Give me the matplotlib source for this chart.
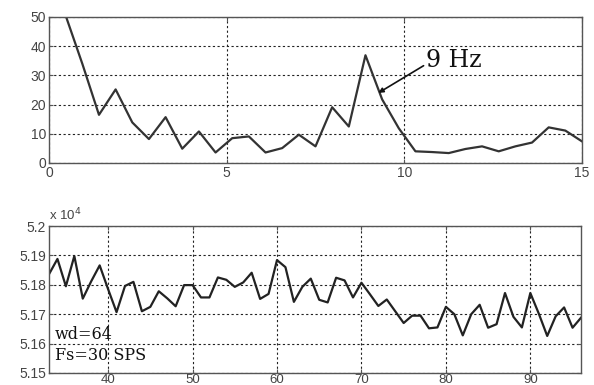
import matplotlib
matplotlib.use("Agg")
import matplotlib.pyplot as plt
from matplotlib.ticker import FuncFormatter, FixedLocator

# ---- data ----
fs = 30
n_window = 64
bin_index = list(range(1, 33))
freq_hz = [k * fs / n_window for k in bin_index]
spectrum = [50.5, 34.0, 16.5, 25.2, 13.9, 8.2, 15.7, 4.9, 10.8, 3.6, 8.5, 9.1,
            3.6, 5.1, 9.7, 5.7, 19.1, 12.5, 36.9, 21.8, 11.9, 4.0, 3.75, 3.4,
            4.8, 5.7, 4.0, 5.7, 7.0, 12.2, 11.1, 7.4]

sample_index = list(range(33, 97))
signal = [51836, 51888, 51795, 51898, 51753, 51812, 51866, 51785, 51707, 51796,
          51810, 51710, 51725, 51778, 51754, 51727, 51799, 51799, 51757, 51757,
          51825, 51817, 51793, 51808, 51841, 51752, 51769, 51884, 51860, 51742,
          51793, 51821, 51749, 51740, 51824, 51815, 51757, 51807, 51768, 51728,
          51750, 51710, 51670, 51695, 51695, 51652, 51655, 51725, 51700, 51628,
          51700, 51732, 51654, 51666, 51772, 51691, 51655, 51772, 51702, 51626,
          51693, 51723, 51654, 51688]

top_xticks = [0, 5, 10, 15]
top_yticks = [0, 10, 20, 30, 40, 50]
bot_xticks = [40, 50, 60, 70, 80, 90]
bot_yticks = [51500, 51600, 51700, 51800, 51900, 52000]

plt.rcParams['font.family'] = ['Liberation Sans', 'DejaVu Sans']

fig = plt.figure(figsize=(5.94, 3.85), dpi=100)
W, H = 594, 385
ax1 = fig.add_axes([49 / W, 1 - 163 / H, (582 - 49) / W, (163 - 17) / H])
ax2 = fig.add_axes([49 / W, 1 - 373 / H, (581 - 49) / W, (373 - 226) / H])

line_col = '#333333'
spine_col = '#555555'
grid_kw = dict(color='#222222', linestyle=(0, (2, 2.2)), linewidth=0.8)

for ax in (ax1, ax2):
    for s in ax.spines.values():
        s.set_color(spine_col)
        s.set_linewidth(1.0)
    ax.tick_params(direction='in', length=3, color=spine_col, labelsize=10,
                   labelcolor='#444444', pad=2, top=True, right=True)
    ax.grid(True, **grid_kw)
    ax.set_axisbelow(True)

# top: spectrum
ax1.plot(freq_hz, spectrum, color=line_col, linewidth=1.6)
ax1.set_xlim(0, 15)
ax1.set_ylim(0, 50)
ax1.xaxis.set_major_locator(FixedLocator(top_xticks))
ax1.yaxis.set_major_locator(FixedLocator(top_yticks))
ax1.annotate('9 Hz', xy=(9.27, 24.0), xytext=(10.62, 32.9),
             fontsize=17, family='DejaVu Serif', color='#111111',
             ha='left', va='baseline',
             arrowprops=dict(arrowstyle='-|>', color='#111111', lw=1.2,
                             mutation_scale=7, shrinkA=0, shrinkB=0,
                             relpos=(-0.03, 0.3)))

# bottom: signal
ax2.plot(sample_index, signal, color='#222222', linewidth=1.6)
ax2.set_xlim(33, 96)
ax2.set_ylim(51500, 52000)
ax2.xaxis.set_major_locator(FixedLocator(bot_xticks))
ax2.yaxis.set_major_locator(FixedLocator(bot_yticks))
ax2.yaxis.set_major_formatter(FuncFormatter(lambda v, p: '%g' % round(v / 1e4, 4)))
ax2.tick_params(axis='x', pad=0.5, labelsize=9.5)
ax2.text(0.0, 1.02, r'x 10$^{4}$', transform=ax2.transAxes, fontsize=9.5,
         color='#444444', ha='left', va='bottom')
ax2.text(33.7, 51616, 'wd=64', fontsize=11.5, family='DejaVu Serif',
         color='#111111', ha='left', va='baseline')
ax2.text(33.7, 51544, 'Fs=30 SPS', fontsize=11.5, family='DejaVu Serif',
         color='#111111', ha='left', va='baseline')

fig.savefig('out.png', dpi=100)
